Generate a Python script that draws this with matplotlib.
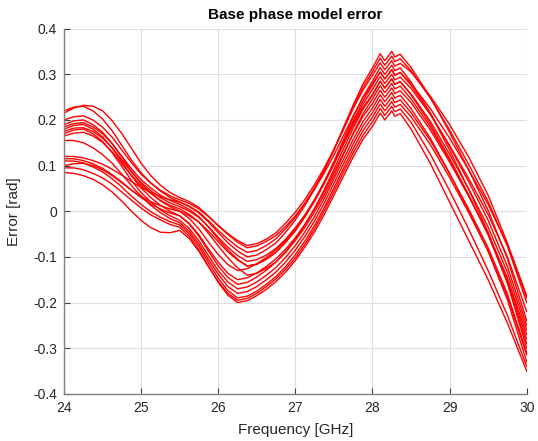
import numpy as np
import matplotlib
matplotlib.use('Agg')
import matplotlib.pyplot as plt

plt.rcParams['font.family'] = ['Liberation Sans', 'DejaVu Sans']

# frequency samples [GHz]
freq = [24, 24.125, 24.25, 24.375, 24.5, 24.625, 24.75, 24.875,
        25, 25.125, 25.25, 25.375, 25.5, 25.625, 25.75, 25.875,
        26, 26.125, 26.25, 26.375, 26.5, 26.625, 26.75, 26.875,
        27, 27.125, 27.25, 27.375, 27.5, 27.625, 27.75, 27.875,
        28, 28.1, 28.16, 28.25, 28.29, 28.36,
        28.5, 28.75, 29, 29.25, 29.5, 29.75, 30]

# model error per element [rad]
err_01 = [0.215, 0.226, 0.232, 0.23, 0.22, 0.198, 0.17, 0.138,
          0.105, 0.078, 0.057, 0.041, 0.03, 0.021, 0.008, -0.011,
          -0.032, -0.051, -0.068, -0.08, -0.076, -0.066, -0.053, -0.033,
          -0.01, 0.018, 0.049, 0.084, 0.123, 0.166, 0.209, 0.248,
          0.279, 0.305, 0.29, 0.31, 0.298, 0.304,
          0.28, 0.225, 0.16, 0.09, 0.015, -0.075, -0.19]
err_02 = [0.22, 0.228, 0.23, 0.22, 0.202, 0.176, 0.144, 0.112,
          0.084, 0.062, 0.044, 0.03, 0.02, 0.01, -0.004, -0.024,
          -0.047, -0.069, -0.087, -0.10, -0.096, -0.084, -0.069, -0.046,
          -0.019, 0.013, 0.049, 0.089, 0.134, 0.184, 0.233, 0.278,
          0.314, 0.345, 0.33, 0.35, 0.338, 0.344,
          0.315, 0.25, 0.173, 0.09, 0.002, -0.104, -0.24]
err_03 = [0.20, 0.207, 0.209, 0.20, 0.184, 0.162, 0.134, 0.106,
          0.081, 0.062, 0.046, 0.034, 0.025, 0.017, 0.005, -0.012,
          -0.031, -0.049, -0.064, -0.075, -0.071, -0.061, -0.047, -0.026,
          -0.002, 0.026, 0.059, 0.095, 0.136, 0.18, 0.225, 0.265,
          0.298, 0.325, 0.31, 0.33, 0.318, 0.324,
          0.305, 0.252, 0.19, 0.118, 0.035, -0.07, -0.185]
err_04 = [0.19, 0.198, 0.20, 0.19, 0.173, 0.148, 0.118, 0.087,
          0.061, 0.04, 0.023, 0.01, 0.0, -0.016, -0.039, -0.068,
          -0.095, -0.117, -0.13, -0.126, -0.115, -0.101, -0.084, -0.063,
          -0.038, -0.008, 0.025, 0.063, 0.105, 0.147, 0.189, 0.227,
          0.256, 0.285, 0.27, 0.29, 0.278, 0.284,
          0.257, 0.197, 0.125, 0.048, -0.035, -0.134, -0.26]
err_05 = [0.185, 0.192, 0.194, 0.185, 0.17, 0.148, 0.12, 0.093,
          0.069, 0.051, 0.035, 0.024, 0.015, 0.004, -0.012, -0.035,
          -0.061, -0.085, -0.105, -0.12, -0.116, -0.105, -0.089, -0.067,
          -0.041, -0.01, 0.025, 0.065, 0.109, 0.157, 0.206, 0.25,
          0.285, 0.315, 0.30, 0.32, 0.308, 0.314,
          0.283, 0.215, 0.134, 0.047, -0.046, -0.157, -0.30]
err_06 = [0.18, 0.188, 0.19, 0.18, 0.163, 0.138, 0.108, 0.077,
          0.051, 0.03, 0.013, 0.0, -0.01, -0.027, -0.052, -0.083,
          -0.112, -0.136, -0.15, -0.146, -0.135, -0.121, -0.104, -0.083,
          -0.058, -0.028, 0.005, 0.043, 0.085, 0.127, 0.169, 0.207,
          0.236, 0.265, 0.25, 0.27, 0.258, 0.264,
          0.238, 0.178, 0.108, 0.032, -0.049, -0.146, -0.27]
err_07 = [0.175, 0.182, 0.183, 0.175, 0.16, 0.139, 0.112, 0.086,
          0.063, 0.045, 0.03, 0.018, 0.01, 0.0, -0.014, -0.034,
          -0.057, -0.079, -0.097, -0.11, -0.106, -0.096, -0.081, -0.061,
          -0.036, -0.008, 0.025, 0.062, 0.103, 0.148, 0.193, 0.234,
          0.267, 0.295, 0.28, 0.30, 0.288, 0.294,
          0.269, 0.212, 0.144, 0.071, -0.007, -0.10, -0.22]
err_08 = [0.17, 0.178, 0.18, 0.17, 0.153, 0.128, 0.098, 0.067,
          0.041, 0.02, 0.003, -0.01, -0.02, -0.038, -0.065, -0.098,
          -0.13, -0.155, -0.17, -0.166, -0.155, -0.14, -0.123, -0.101,
          -0.075, -0.045, -0.011, 0.028, 0.071, 0.114, 0.157, 0.196,
          0.226, 0.255, 0.24, 0.26, 0.248, 0.254,
          0.225, 0.16, 0.083, 0.0, -0.088, -0.194, -0.33]
err_09 = [0.165, 0.171, 0.173, 0.165, 0.151, 0.13, 0.104, 0.079,
          0.056, 0.039, 0.024, 0.013, 0.005, -0.007, -0.024, -0.049,
          -0.076, -0.102, -0.124, -0.14, -0.136, -0.125, -0.111, -0.09,
          -0.064, -0.035, -0.001, 0.036, 0.078, 0.125, 0.171, 0.213,
          0.246, 0.275, 0.26, 0.28, 0.268, 0.274,
          0.246, 0.185, 0.112, 0.034, -0.05, -0.151, -0.28]
err_10 = [0.155, 0.155, 0.15, 0.139, 0.124, 0.105, 0.081, 0.056,
          0.033, 0.013, -0.003, -0.016, -0.025, -0.044, -0.072, -0.106,
          -0.138, -0.165, -0.18, -0.176, -0.165, -0.15, -0.133, -0.111,
          -0.085, -0.055, -0.021, 0.018, 0.061, 0.104, 0.147, 0.186,
          0.216, 0.245, 0.23, 0.25, 0.238, 0.244,
          0.216, 0.155, 0.082, 0.004, -0.08, -0.181, -0.31]
err_11 = [0.12, 0.12, 0.117, 0.111, 0.103, 0.092, 0.079, 0.065,
          0.052, 0.041, 0.032, 0.025, 0.02, 0.011, -0.002, -0.021,
          -0.042, -0.061, -0.078, -0.09, -0.086, -0.075, -0.06, -0.038,
          -0.013, 0.018, 0.052, 0.091, 0.134, 0.181, 0.228, 0.271,
          0.306, 0.335, 0.32, 0.34, 0.328, 0.334,
          0.308, 0.248, 0.178, 0.102, 0.021, -0.076, -0.20]
err_12 = [0.115, 0.115, 0.111, 0.104, 0.094, 0.08, 0.064, 0.046,
          0.03, 0.016, 0.005, -0.004, -0.01, -0.028, -0.055, -0.088,
          -0.12, -0.145, -0.16, -0.156, -0.144, -0.129, -0.111, -0.088,
          -0.061, -0.03, 0.007, 0.047, 0.092, 0.137, 0.182, 0.223,
          0.254, 0.285, 0.27, 0.29, 0.278, 0.284,
          0.255, 0.191, 0.116, 0.035, -0.052, -0.157, -0.29]
err_13 = [0.11, 0.11, 0.106, 0.097, 0.086, 0.071, 0.053, 0.033,
          0.015, -0.001, -0.013, -0.023, -0.03, -0.049, -0.078, -0.113,
          -0.147, -0.174, -0.19, -0.186, -0.175, -0.16, -0.143, -0.121,
          -0.095, -0.065, -0.031, 0.008, 0.051, 0.094, 0.137, 0.176,
          0.206, 0.235, 0.22, 0.24, 0.228, 0.234,
          0.207, 0.146, 0.074, -0.004, -0.087, -0.187, -0.315]
err_14 = [0.10, 0.104, 0.105, 0.10, 0.091, 0.078, 0.062, 0.046,
          0.032, 0.021, 0.012, 0.005, 0.0, -0.01, -0.024, -0.044,
          -0.067, -0.089, -0.107, -0.12, -0.116, -0.105, -0.09, -0.068,
          -0.043, -0.012, 0.022, 0.061, 0.104, 0.151, 0.198, 0.241,
          0.276, 0.305, 0.29, 0.31, 0.298, 0.304,
          0.276, 0.215, 0.142, 0.064, -0.02, -0.121, -0.25]
err_15 = [0.095, 0.095, 0.091, 0.083, 0.073, 0.059, 0.042, 0.024,
          0.007, -0.008, -0.019, -0.029, -0.035, -0.055, -0.085, -0.121,
          -0.156, -0.184, -0.20, -0.196, -0.185, -0.171, -0.154, -0.133,
          -0.108, -0.078, -0.045, -0.007, 0.035, 0.077, 0.119, 0.157,
          0.186, 0.215, 0.20, 0.22, 0.208, 0.214,
          0.18, 0.105, 0.02, -0.065, -0.15, -0.245, -0.35]
err_16 = [0.085, 0.083, 0.078, 0.07, 0.058, 0.042, 0.022, 0.0,
          -0.02, -0.036, -0.046, -0.047, -0.042, -0.06, -0.088, -0.122,
          -0.154, -0.18, -0.195, -0.191, -0.18, -0.165, -0.148, -0.127,
          -0.102, -0.072, -0.038, 0.001, 0.043, 0.086, 0.128, 0.166,
          0.196, 0.225, 0.21, 0.23, 0.218, 0.224,
          0.195, 0.125, 0.045, -0.04, -0.13, -0.228, -0.34]

errors = [err_01, err_02, err_03, err_04, err_05, err_06, err_07, err_08,
          err_09, err_10, err_11, err_12, err_13, err_14, err_15, err_16]

x_ticks = [24, 25, 26, 27, 28, 29, 30]
y_ticks = [-0.4, -0.3, -0.2, -0.1, 0, 0.1, 0.2, 0.3, 0.4]
y_labels = ['-0.4', '-0.3', '-0.2', '-0.1', '0', '0.1', '0.2', '0.3', '0.4']

fig = plt.figure(figsize=(5.38, 4.41), dpi=100)
ax = fig.add_axes([0.119, 0.107, 0.860, 0.828])

for e in errors:
    ax.plot(freq, e, color='red', linewidth=1.0)

ax.set_xlim(24, 30)
ax.set_ylim(-0.4, 0.4)
ax.set_xticks(x_ticks)
ax.set_yticks(y_ticks)
ax.set_yticklabels(y_labels)
ax.grid(True, color='#dedede', linewidth=0.8)
ax.set_axisbelow(True)

for side in ['top', 'right']:
    ax.spines[side].set_visible(False)
for side in ['left', 'bottom']:
    ax.spines[side].set_color('#808080')
    ax.spines[side].set_linewidth(1.0)
ax.tick_params(direction='in', length=4, color='#404040', labelsize=10,
               labelcolor='#262626', pad=5)

ax.set_xlabel('Frequency [GHz]', fontsize=11, color='#262626', labelpad=6)
ax.set_ylabel('Error [rad]', fontsize=11, color='#262626', labelpad=9)
ax.set_title('Base phase model error', fontsize=11, fontweight='bold', color='black', pad=7)

fig.savefig('out.png', dpi=100)
